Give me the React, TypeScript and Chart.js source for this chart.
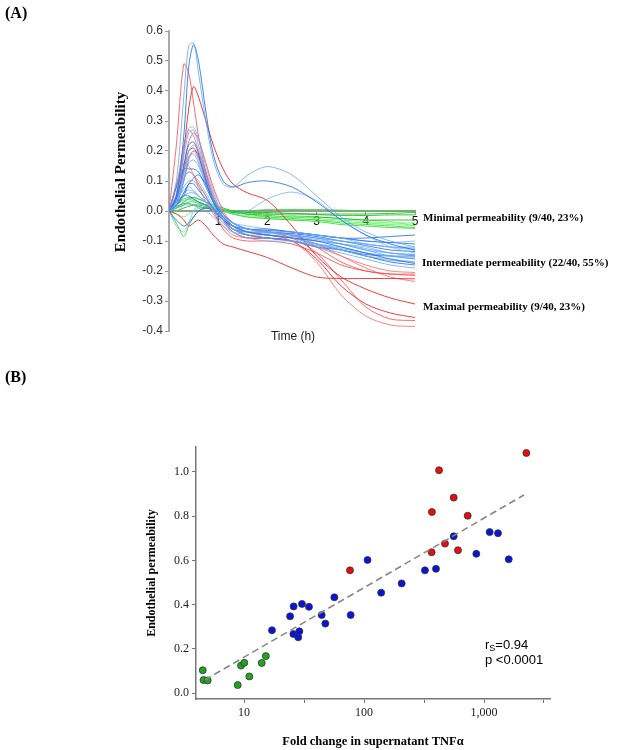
import React, { useEffect, useRef } from "react";
import { Chart, registerables } from "chart.js";

Chart.register(...registerables);

// ---------- Panel A data ----------
const TIME_H = [0, 0.15, 0.3, 0.4, 0.5, 0.6, 0.75, 0.9, 1.1, 1.3, 1.6, 2.0, 2.5, 3.0, 3.5, 4.0, 4.5, 5.0];

const MINIMAL_TRACES = [
  [0, 0.02, 0.04, 0.045, 0.045, 0.04, 0.03, 0.015, 0.005, 0.0, 0.0, 0.005, 0.005, 0.005, 0.003, 0.0, 0.0, 0.002],
  [0, 0.01, 0.03, 0.04, 0.045, 0.04, 0.03, 0.02, 0.01, 0.0, -0.005, -0.01, -0.01, -0.012, -0.015, -0.015, -0.013, -0.013],
  [0, 0.0, 0.02, 0.03, 0.035, 0.03, 0.02, 0.01, 0.0, -0.01, -0.015, -0.02, -0.02, -0.025, -0.03, -0.035, -0.04, -0.04],
  [0, -0.04, -0.085, -0.05, -0.02, 0.0, 0.01, 0.01, 0.0, -0.01, -0.02, -0.025, -0.03, -0.035, -0.045, -0.05, -0.055, -0.058],
  [0, 0.015, 0.025, 0.025, 0.02, 0.015, 0.01, 0.005, 0.0, -0.005, -0.01, -0.015, -0.02, -0.02, -0.025, -0.03, -0.03, -0.03],
  [0, -0.01, -0.02, -0.01, 0.0, 0.01, 0.01, 0.005, 0.0, -0.005, -0.01, -0.01, -0.015, -0.02, -0.025, -0.03, -0.035, -0.05],
  [0, 0.01, 0.02, 0.03, 0.03, 0.025, 0.02, 0.01, 0.005, 0.0, -0.01, -0.02, -0.025, -0.03, -0.04, -0.045, -0.05, -0.055],
  [0, 0.0, 0.01, 0.015, 0.02, 0.02, 0.015, 0.01, 0.0, -0.005, -0.005, -0.005, -0.008, -0.01, -0.01, -0.01, -0.008, -0.005],
  [0, 0.02, 0.035, 0.04, 0.035, 0.03, 0.02, 0.01, 0.0, -0.01, -0.02, -0.025, -0.03, -0.03, -0.035, -0.04, -0.045, -0.048],
];

const INTERMEDIATE_TRACES = [
  [0, 0.10, 0.38, 0.55, 0.56, 0.46, 0.30, 0.17, 0.09, 0.08, 0.12, 0.148, 0.12, 0.05, -0.02, -0.07, -0.10, -0.12],
  [0, 0.05, 0.25, 0.48, 0.555, 0.50, 0.33, 0.19, 0.10, 0.08, 0.095, 0.10, 0.08, 0.03, -0.03, -0.08, -0.11, -0.13],
  [0, 0.06, 0.2, 0.275, 0.28, 0.24, 0.15, 0.07, 0.01, -0.01, 0.0, 0.04, 0.063, 0.035, -0.03, -0.08, -0.12, -0.14],
  [0, 0.05, 0.18, 0.26, 0.27, 0.22, 0.12, 0.04, -0.02, -0.05, -0.06, -0.07, -0.08, -0.09, -0.11, -0.13, -0.15, -0.16],
  [0, 0.04, 0.15, 0.22, 0.23, 0.19, 0.10, 0.03, -0.02, -0.05, -0.07, -0.08, -0.09, -0.10, -0.12, -0.14, -0.16, -0.175],
  [0, 0.03, 0.12, 0.2, 0.22, 0.2, 0.12, 0.05, -0.01, -0.04, -0.06, -0.07, -0.07, -0.08, -0.09, -0.11, -0.12, -0.13],
  [0, 0.02, 0.10, 0.18, 0.20, 0.17, 0.10, 0.03, -0.03, -0.06, -0.08, -0.09, -0.10, -0.12, -0.14, -0.16, -0.18, -0.19],
  [0, 0.08, 0.14, 0.14, 0.14, 0.13, 0.08, 0.03, -0.01, -0.04, -0.06, -0.06, -0.07, -0.08, -0.09, -0.10, -0.105, -0.11],
  [0, 0.05, 0.11, 0.13, 0.12, 0.10, 0.06, 0.02, -0.02, -0.05, -0.07, -0.08, -0.09, -0.11, -0.13, -0.15, -0.16, -0.17],
  [0, 0.03, 0.08, 0.10, 0.10, 0.08, 0.05, 0.01, -0.03, -0.06, -0.07, -0.07, -0.08, -0.09, -0.10, -0.11, -0.12, -0.12],
  [0, 0.02, 0.06, 0.09, 0.09, 0.07, 0.04, 0.01, -0.03, -0.05, -0.06, -0.065, -0.07, -0.08, -0.09, -0.09, -0.085, -0.08],
  [0, 0.04, 0.07, 0.08, 0.07, 0.05, 0.03, 0.0, -0.04, -0.07, -0.09, -0.1, -0.1, -0.11, -0.12, -0.14, -0.15, -0.155],
  [0, 0.02, 0.05, 0.06, 0.06, 0.05, 0.03, 0.01, -0.02, -0.05, -0.07, -0.08, -0.09, -0.1, -0.11, -0.125, -0.14, -0.145],
  [0, 0.03, 0.05, 0.05, 0.04, 0.03, 0.02, 0.0, -0.03, -0.06, -0.08, -0.09, -0.1, -0.12, -0.13, -0.145, -0.15, -0.15],
  [0, 0.01, 0.03, 0.04, 0.04, 0.03, 0.02, 0.0, -0.02, -0.04, -0.05, -0.06, -0.07, -0.08, -0.09, -0.10, -0.105, -0.1],
  [0, 0.01, 0.02, 0.02, 0.02, 0.01, 0.0, -0.02, -0.05, -0.07, -0.08, -0.09, -0.1, -0.11, -0.125, -0.14, -0.15, -0.16],
  [0, -0.03, -0.05, -0.04, -0.02, 0.0, 0.01, 0.0, -0.03, -0.05, -0.07, -0.08, -0.09, -0.11, -0.13, -0.15, -0.17, -0.18],
  [0, -0.05, -0.07, -0.04, 0.0, 0.02, 0.02, 0.0, -0.02, -0.04, -0.06, -0.07, -0.08, -0.09, -0.1, -0.11, -0.12, -0.125],
  [0, 0.03, 0.1, 0.16, 0.17, 0.15, 0.09, 0.04, -0.01, -0.05, -0.08, -0.09, -0.1, -0.115, -0.13, -0.15, -0.165, -0.17],
  [0, 0.02, 0.05, 0.09, 0.11, 0.12, 0.09, 0.04, -0.01, -0.04, -0.06, -0.07, -0.075, -0.085, -0.1, -0.115, -0.13, -0.135],
  [0, 0.02, 0.06, 0.07, 0.065, 0.05, 0.03, 0.0, -0.04, -0.06, -0.07, -0.075, -0.08, -0.1, -0.11, -0.12, -0.14, -0.145],
  [0, 0.04, 0.13, 0.18, 0.19, 0.16, 0.09, 0.03, -0.02, -0.05, -0.07, -0.08, -0.085, -0.095, -0.11, -0.13, -0.14, -0.15],
];

const MAXIMAL_TRACES = [
  [0, 0.22, 0.49, 0.46, 0.36, 0.25, 0.13, 0.04, -0.03, -0.06, -0.07, -0.07, -0.08, -0.12, -0.17, -0.2, -0.21, -0.215],
  [0, 0.05, 0.20, 0.34, 0.415, 0.38, 0.30, 0.22, 0.14, 0.09, 0.06, 0.035, -0.05, -0.15, -0.22, -0.26, -0.29, -0.31],
  [0, 0.08, 0.22, 0.27, 0.25, 0.20, 0.12, 0.05, -0.02, -0.06, -0.08, -0.08, -0.10, -0.17, -0.28, -0.35, -0.38, -0.385],
  [0, 0.04, 0.15, 0.23, 0.26, 0.24, 0.16, 0.08, 0.0, -0.04, -0.06, -0.07, -0.09, -0.14, -0.23, -0.32, -0.36, -0.365],
  [0, 0.03, 0.13, 0.2, 0.21, 0.18, 0.11, 0.04, -0.03, -0.07, -0.09, -0.09, -0.1, -0.16, -0.25, -0.31, -0.34, -0.355],
  [0, 0.09, 0.16, 0.15, 0.12, 0.08, 0.03, -0.01, -0.05, -0.08, -0.09, -0.09, -0.1, -0.12, -0.15, -0.18, -0.2, -0.205],
  [0, 0.05, 0.11, 0.13, 0.12, 0.09, 0.05, 0.0, -0.06, -0.09, -0.1, -0.1, -0.11, -0.14, -0.18, -0.2, -0.21, -0.21],
  [0, -0.01, -0.03, -0.05, -0.04, -0.03, -0.05, -0.08, -0.11, -0.12, -0.135, -0.155, -0.19, -0.22, -0.225, -0.225, -0.225, -0.226],
  [0, 0.02, 0.1, 0.17, 0.2, 0.19, 0.13, 0.06, -0.01, -0.05, -0.07, -0.07, -0.08, -0.11, -0.15, -0.19, -0.22, -0.235],
];

const A_Y_TICKS = [-0.4, -0.3, -0.2, -0.1, 0.0, 0.1, 0.2, 0.3, 0.4, 0.5, 0.6];
const A_X_TICKS = [1, 2, 3, 4, 5];

// ---------- Panel B data ----------
const GREEN_TNF = [4.53, 4.6, 4.98, 8.86, 9.44, 10.06, 11.07, 14.05, 15.2];
const GREEN_PERM = [0.103, 0.059, 0.057, 0.036, 0.124, 0.137, 0.075, 0.136, 0.167];
const BLUE_TNF = [17.1, 24.2, 25.9, 25.8, 28.3, 28.9, 30.4, 34.8, 44.4, 47.6, 56.6, 77.4, 107, 139, 206, 322, 398, 559, 863, 1115, 1308, 1607];
const BLUE_PERM = [0.284, 0.347, 0.392, 0.267, 0.252, 0.279, 0.403, 0.39, 0.353, 0.314, 0.433, 0.353, 0.602, 0.454, 0.496, 0.555, 0.562, 0.709, 0.63, 0.728, 0.723, 0.605];
const RED_TNF = [76.4, 366, 368, 422, 473, 559, 607, 731, 2254];
const RED_PERM = [0.555, 0.637, 0.819, 1.008, 0.676, 0.884, 0.646, 0.802, 1.086];
const FIT_TNF = [4.7, 2154];
const FIT_PERM = [0.059, 0.896];
const B_Y_TICKS = [0.0, 0.2, 0.4, 0.6, 0.8, 1.0];
const B_X_TICKS = [10, 31.62, 100, 316.2, 1000, 3162];
const B_X_LABELS: Record<string, string> = { "10": "10", "100": "100", "1000": "1,000" };

type TextItem = { text: string; x: number; y: number; font: string; align?: CanvasTextAlign; rot?: number; color?: string };

const textPlugin = (id: string, items: TextItem[], extra?: (ctx: CanvasRenderingContext2D) => void) => ({
  id,
  afterDraw(chart: any) {
    const ctx: CanvasRenderingContext2D = chart.ctx;
    items.forEach((it) => {
      ctx.save();
      ctx.font = it.font;
      ctx.fillStyle = it.color || "#000";
      ctx.textAlign = it.align || "left";
      ctx.textBaseline = "middle";
      ctx.translate(it.x, it.y);
      if (it.rot) ctx.rotate(it.rot);
      ctx.fillText(it.text, 0, 0);
      ctx.restore();
    });
    if (extra) extra(ctx);
  },
});

const RED_SHADES = ["rgba(255,70,70,0.8)", "rgba(235,30,30,0.85)", "rgba(255,110,110,0.85)"];
const BLUE_SHADES = ["rgba(90,160,245,0.75)", "rgba(25,105,225,0.8)", "rgba(120,180,250,0.8)"];
const GREEN_SHADES = ["rgba(50,215,50,0.85)", "rgba(25,185,25,0.85)", "rgba(100,235,100,0.85)"];

function PanelA() {
  const ref = useRef<HTMLCanvasElement>(null);
  useEffect(() => {
    const mk = (traces: number[][], shades: string[]) =>
      traces.map((tr) => tr.map((v, i) => ({ x: TIME_H[i], y: v })));
    const datasets: any[] = [];
    mk(INTERMEDIATE_TRACES, BLUE_SHADES).forEach((d, i) =>
      datasets.push({ data: d, borderColor: BLUE_SHADES[i % 3], borderWidth: 1, pointRadius: 0, tension: 0.3 })
    );
    mk(MAXIMAL_TRACES, RED_SHADES).forEach((d, i) =>
      datasets.push({ data: d, borderColor: RED_SHADES[i % 3], borderWidth: 1, pointRadius: 0, tension: 0.3 })
    );
    mk(MINIMAL_TRACES, GREEN_SHADES).forEach((d, i) =>
      datasets.push({ data: d, borderColor: GREEN_SHADES[i % 3], borderWidth: 1, pointRadius: 0, tension: 0.3 })
    );
    const labelFont = "bold 11px 'Liberation Serif'";
    const chart = new Chart(ref.current!, {
      type: "line",
      data: { datasets },
      options: {
        animation: false,
        responsive: false,
        layout: { padding: { left: 119, right: 202, top: 31, bottom: 59 } },
        plugins: { legend: { display: false }, tooltip: { enabled: false } },
        scales: {
          x: {
            type: "linear",
            position: { y: 0 } as any,
            min: 0,
            max: 5,
            afterBuildTicks: (s: any) => {
              s.ticks = A_X_TICKS.map((v) => ({ value: v }));
            },
            ticks: {
              font: { family: "'Liberation Sans'", size: 12 },
              color: "#111",
              padding: 0,
              maxRotation: 0,
            },
            grid: { drawOnChartArea: false, drawTicks: true, tickLength: 3, color: "#999" },
            border: { display: true, color: "#999", width: 2, dash: [10, 5] },
          },
          y: {
            type: "linear",
            min: -0.4,
            max: 0.6,
            afterBuildTicks: (s: any) => {
              s.ticks = A_Y_TICKS.map((v) => ({ value: v }));
            },
            afterFit: (s: any) => {
              s.width = 50;
            },
            ticks: {
              font: { family: "'Liberation Sans'", size: 12 },
              color: "#333",
              padding: 2,
              callback: (v: any) => (Math.abs(v) < 1e-9 ? "0.0" : Number(v).toFixed(1)),
            },
            grid: { drawOnChartArea: false, drawTicks: true, tickLength: 4, color: "#999" },
            border: { display: true, color: "#aaa", width: 2 },
          },
        },
      },
      plugins: [
        textPlugin("textsA", [
          { text: "(A)", x: 5, y: 14, font: "bold 16px 'Liberation Serif'" },
          { text: "(B)", x: 5, y: 378, font: "bold 16px 'Liberation Serif'" },
          { text: "Endothelial Permeability", x: 121, y: 172, font: "bold 15px 'Liberation Serif'", align: "center", rot: -Math.PI / 2 },
          { text: "Time (h)", x: 293, y: 337, font: "12px 'Liberation Sans'", align: "center", color: "#222" },
          { text: "Minimal permeability (9/40, 23%)", x: 423, y: 218, font: labelFont },
          { text: "Intermediate permeability (22/40, 55%)", x: 422, y: 263, font: labelFont },
          { text: "Maximal permeability (9/40, 23%)", x: 423, y: 307, font: labelFont },
        ]),
      ],
    } as any);
    return () => chart.destroy();
  }, []);
  return <canvas ref={ref} width={617} height={390} style={{ position: "absolute", left: 0, top: 0, width: 617, height: 390 }} />;
}

function PanelB() {
  const ref = useRef<HTMLCanvasElement>(null);
  useEffect(() => {
    const pts = (xs: number[], ys: number[]) => xs.map((x, i) => ({ x, y: ys[i] }));
    const pointStyle = { pointRadius: 3.5, pointBorderWidth: 0.8, pointBorderColor: "#333", showLine: false };
    const chart = new Chart(ref.current!, {
      type: "scatter",
      data: {
        datasets: [
          {
            type: "line",
            data: pts(FIT_TNF, FIT_PERM),
            borderColor: "#888",
            borderWidth: 1.6,
            borderDash: [7, 4],
            pointRadius: 0,
            showLine: true,
          },
          { data: pts(GREEN_TNF, GREEN_PERM), backgroundColor: "#1fa51f", ...pointStyle },
          { data: pts(BLUE_TNF, BLUE_PERM), backgroundColor: "#0a14d8", ...pointStyle },
          { data: pts(RED_TNF, RED_PERM), backgroundColor: "#e80e0e", ...pointStyle },
        ],
      },
      options: {
        animation: false,
        responsive: false,
        layout: { padding: { left: 156, right: 67, top: 57, bottom: 21 } },
        plugins: { legend: { display: false }, tooltip: { enabled: false } },
        scales: {
          x: {
            type: "logarithmic",
            min: 3.98,
            max: 3548,
            afterBuildTicks: (s: any) => {
              s.ticks = B_X_TICKS.map((v) => ({ value: v }));
            },
            afterFit: (s: any) => {
              s.height = 30;
            },
            ticks: {
              font: { family: "'Liberation Serif'", size: 12 },
              color: "#222",
              padding: 3,
              maxRotation: 0,
              autoSkip: false,
              callback: (v: any) => B_X_LABELS[String(v)] || "",
            },
            grid: { drawOnChartArea: false, drawTicks: true, tickLength: 4, color: "#777" },
            border: { display: true, color: "#777", width: 1.5 },
          },
          y: {
            type: "linear",
            min: -0.027,
            max: 1.113,
            afterBuildTicks: (s: any) => {
              s.ticks = B_Y_TICKS.map((v) => ({ value: v }));
            },
            afterFit: (s: any) => {
              s.width = 40;
            },
            ticks: {
              font: { family: "'Liberation Serif'", size: 12 },
              color: "#222",
              padding: 3,
              callback: (v: any) => Number(v).toFixed(1),
            },
            grid: { drawOnChartArea: false, drawTicks: true, tickLength: 4, color: "#777" },
            border: { display: true, color: "#777", width: 1.5 },
          },
        },
      },
      plugins: [
        textPlugin(
          "textsB",
          [
            { text: "Endothelial permeability", x: 152, y: 183, font: "bold 12px 'Liberation Serif'", align: "center", rot: -Math.PI / 2 },
            { text: "Fold change in supernatant TNFα", x: 373, y: 352, font: "bold 12.5px 'Liberation Serif'", align: "center" },
            { text: "p <0.0001", x: 485, y: 270, font: "13px 'Liberation Sans'" },
          ],
          (ctx) => {
            ctx.save();
            ctx.fillStyle = "#000";
            ctx.textBaseline = "middle";
            ctx.font = "13px 'Liberation Sans'";
            ctx.fillText("r", 485, 255);
            const w = ctx.measureText("r").width;
            ctx.font = "9px 'Liberation Sans'";
            ctx.fillText("S", 485 + w, 259);
            const w2 = ctx.measureText("S").width;
            ctx.font = "13px 'Liberation Sans'";
            ctx.fillText("=0.94", 485 + w + w2, 255);
            ctx.restore();
          }
        ),
      ],
    } as any);
    return () => chart.destroy();
  }, []);
  return <canvas ref={ref} width={617} height={360} style={{ position: "absolute", left: 0, top: 390, width: 617, height: 360 }} />;
}

export default function App() {
  return (
    <div style={{ position: "absolute", left: 0, top: 0, width: 617, height: 750, background: "#fff", overflow: "hidden" }}>
      <PanelA />
      <PanelB />
    </div>
  );
}
